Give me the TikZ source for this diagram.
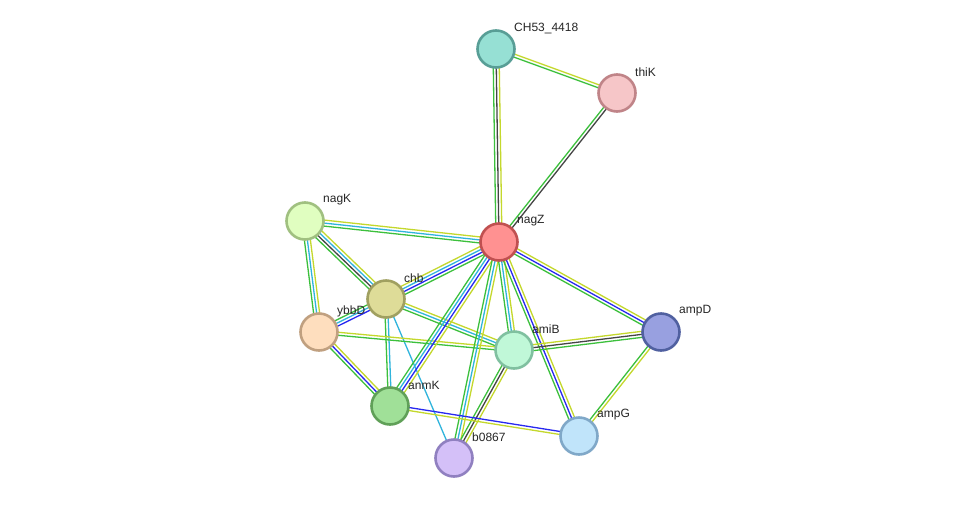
\documentclass[tikz,border=0pt]{standalone}
\usepackage{fontspec}
\setmainfont{Liberation Sans}
\usetikzlibrary{calc, backgrounds}
\definecolor{lkgreen}{HTML}{3CC03C}
\definecolor{lkcyan}{HTML}{30B4DC}
\definecolor{lkblue}{HTML}{2828F0}
\definecolor{lkyellow}{HTML}{C4D82C}
\definecolor{lkgray}{HTML}{454545}

% one protein: name, x, y, label, colour style
\newcommand{\prot}[5]{%
  \node[prot, #5] (#1) at (#2,#3) {};
  \node[lbl] (#1-l) at (#2+18,#3-21) {#4};}

% one link drawn as parallel coloured lines
\newcommand{\ppilink}[3]{%
  \foreach \c [count=\i] in {#3} {\xdef\linkn{\i}}
  \foreach \c [count=\i] in {#3} {
    \pgfmathsetmacro\off{(\i-(\linkn+1)/2)*3}
    \draw[edge, \c] ($(#1.center)!\off pt!90:(#2.center)$)
      -- ($(#2.center)!\off pt!-90:(#1.center)$);
  }}

\begin{document}
\begin{tikzpicture}[
  x=1pt, y=-1pt,
  prot/.style={circle, minimum size=37pt, inner sep=0pt, line width=2.6pt},
  lbl/.style={anchor=west, inner sep=0pt, font=\fontsize{12}{14}\selectfont, text=black!85},
  edge/.style={line width=1.3pt},
  pteal/.style={fill={rgb,255:red,150;green,224;blue,212}, draw={rgb,255:red,88;green,158;blue,150}},
  ppink/.style={fill={rgb,255:red,246;green,198;blue,200}, draw={rgb,255:red,192;green,132;blue,136}},
  pred/.style={fill={rgb,255:red,255;green,145;blue,145}, draw={rgb,255:red,192;green,80;blue,80}},
  plime/.style={fill={rgb,255:red,224;green,254;blue,192}, draw={rgb,255:red,160;green,192;blue,128}},
  polive/.style={fill={rgb,255:red,222;green,220;blue,152}, draw={rgb,255:red,160;green,160;blue,96}},
  ppeach/.style={fill={rgb,255:red,254;green,222;blue,190}, draw={rgb,255:red,192;green,160;blue,128}},
  pmint/.style={fill={rgb,255:red,192;green,248;blue,216}, draw={rgb,255:red,128;green,192;blue,160}},
  pnavy/.style={fill={rgb,255:red,152;green,160;blue,224}, draw={rgb,255:red,80;green,96;blue,160}},
  pgreen/.style={fill={rgb,255:red,160;green,224;blue,152}, draw={rgb,255:red,96;green,160;blue,88}},
  plilac/.style={fill={rgb,255:red,212;green,192;blue,248}, draw={rgb,255:red,144;green,128;blue,192}},
  psky/.style={fill={rgb,255:red,192;green,228;blue,250}, draw={rgb,255:red,128;green,168;blue,200}}
]
\useasboundingbox (0,0) rectangle (975,504);

\prot{ch53}{496}{49}{CH53\_4418}{pteal}
\prot{thik}{617}{93}{thiK}{ppink}
\prot{nagz}{499}{242}{nagZ}{pred}
\prot{nagk}{305}{221}{nagK}{plime}
\prot{chb}{386}{299}{chb}{polive}
\prot{ybbd}{319}{332}{ybbD}{ppeach}
\prot{amib}{514}{350}{amiB}{pmint}
\prot{ampd}{661}{332}{ampD}{pnavy}
\prot{anmk}{390}{406}{anmK}{pgreen}
\prot{b0867}{454}{458}{b0867}{plilac}
\prot{ampg}{579}{436}{ampG}{psky}

\begin{pgfonlayer}{background}
\fill[white] (0,0) rectangle (975,504);
\ppilink{ch53}{thik}{lkgreen,lkyellow}
\ppilink{ch53}{nagz}{lkgreen,lkgray,lkyellow}
\ppilink{thik}{nagz}{lkgreen,lkgray}
\ppilink{nagk}{nagz}{lkgreen,lkcyan,lkyellow}
\ppilink{nagk}{chb}{lkgreen,lkgray,lkcyan,lkyellow}
\ppilink{nagk}{ybbd}{lkgreen,lkcyan,lkyellow}
\ppilink{chb}{nagz}{lkgreen,lkblue,lkcyan,lkyellow}
\ppilink{ybbd}{chb}{lkblue,lkcyan,lkgreen}
\ppilink{chb}{amib}{lkgreen,lkcyan,lkyellow}
\ppilink{chb}{anmk}{lkgreen,lkcyan}
\ppilink{chb}{b0867}{lkcyan}
\ppilink{ybbd}{amib}{lkgreen,lkyellow}
\ppilink{ybbd}{anmk}{lkgreen,lkblue,lkyellow}
\ppilink{nagz}{anmk}{lkgreen,lkcyan,lkblue,lkyellow}
\ppilink{nagz}{b0867}{lkgreen,lkcyan,lkyellow}
\ppilink{nagz}{amib}{lkgreen,lkcyan,lkyellow}
\ppilink{nagz}{ampg}{lkgreen,lkblue,lkyellow}
\ppilink{nagz}{ampd}{lkgreen,lkblue,lkyellow}
\ppilink{amib}{ampd}{lkgreen,lkgray,lkyellow}
\ppilink{amib}{b0867}{lkgreen,lkgray,lkyellow}
\ppilink{ampd}{ampg}{lkgreen,lkyellow}
\ppilink{anmk}{ampg}{lkyellow,lkblue}
\end{pgfonlayer}
\end{tikzpicture}
\end{document}
